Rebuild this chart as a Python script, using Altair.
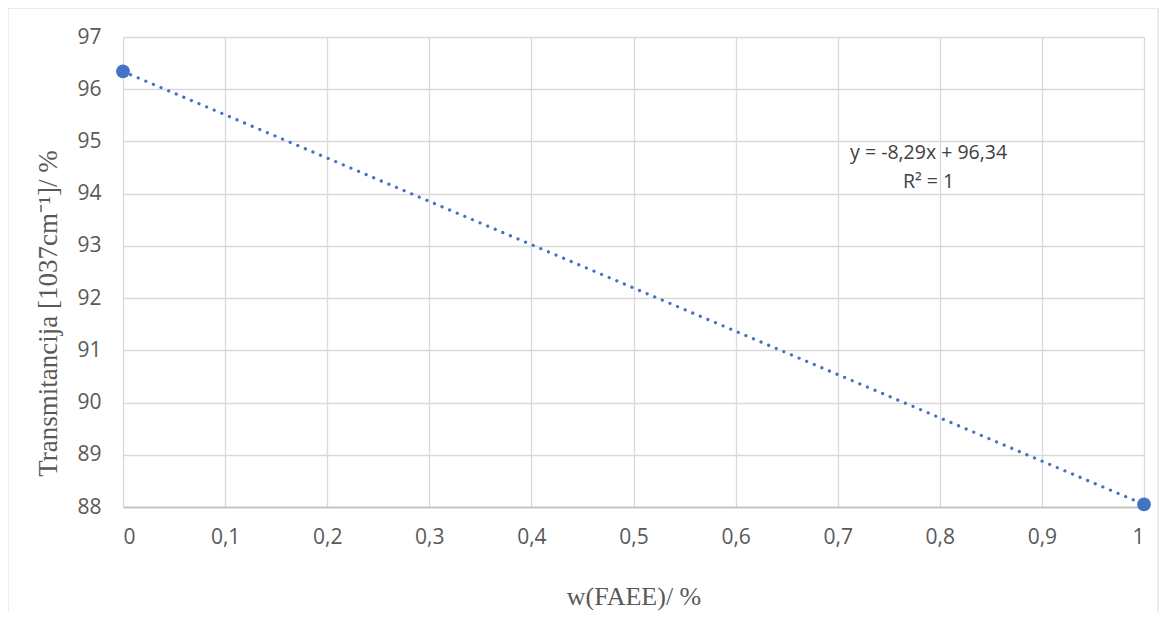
import altair as alt
import pandas as pd

# data
w_faee = [0, 1]
transmit = [96.34, 88.05]
x_ticks = [0, 0.1, 0.2, 0.3, 0.4, 0.5, 0.6, 0.7, 0.8, 0.9, 1]
y_ticks = [88, 89, 90, 91, 92, 93, 94, 95, 96, 97]
eq_lines = ["y = -8,29x + 96,34", "R² = 1"]
eq_x = [0.789, 0.789]
eq_y = [94.78, 94.22]

df = pd.DataFrame({"x": w_faee, "y": transmit})
eq_df = pd.DataFrame({"x": eq_x, "y": eq_y, "t": eq_lines})

GRID = "#d9d9d9"
TXT = "#595959"
BLUE = "#4472C4"

xscale = alt.Scale(domain=[0, 1], nice=False, zero=False)
yscale = alt.Scale(domain=[88, 97], nice=False, zero=False)

x_enc = alt.X(
    "x:Q", scale=xscale,
    axis=alt.Axis(
        values=x_ticks, title="w(FAEE)/ %",
        labelExpr="datum.value == 0 ? '0' : datum.value == 1 ? '1' : replace(format(datum.value, '.1f'), '.', ',')",
        labelFont="Open Sans", labelFontSize=21, labelColor=TXT, labelPadding=19,
        titleFont="Liberation Serif", titleFontSize=26, titleColor=TXT, titleFontWeight="normal",
        titlePadding=36, ticks=False, domainColor="#bfbfbf", domainWidth=1.3,
        gridColor=GRID, gridWidth=1.3,
    ),
)
y_enc = alt.Y(
    "y:Q", scale=yscale,
    axis=alt.Axis(
        values=y_ticks, title="Transmitancija [1037cm⁻¹]/ %",
        labelFont="Open Sans", labelFontSize=21, labelColor=TXT, labelPadding=22,
        titleFont="Liberation Serif", titleFontSize=27, titleColor=TXT, titleFontWeight="normal",
        titlePadding=14, titleY=276, titleAlign="center", ticks=False, domain=False,
        gridColor=GRID, gridWidth=1.3,
    ),
)

border = alt.Chart(pd.DataFrame({"a": [0]})).mark_rect(
    fill=None, stroke="#d9d9d9", strokeWidth=1, clip=False
).encode(
    x=alt.value(-115), x2=alt.value(1035), y=alt.value(-29), y2=alt.value(600)
)

trend = alt.Chart(df).transform_regression("x", "y", extent=[0, 1]).mark_line(
    color=BLUE, strokeWidth=3.2, strokeDash=[0.1, 8.15], strokeCap="round"
).encode(x=x_enc, y=y_enc)

points = alt.Chart(df).mark_circle(size=190, color=BLUE, opacity=1).encode(x=x_enc, y=y_enc)

eq = alt.Chart(eq_df).mark_text(
    font="Open Sans", fontSize=19.5, color="#404040", align="center", baseline="middle"
).encode(x=alt.X("x:Q", scale=xscale), y=alt.Y("y:Q", scale=yscale), text="t:N")

chart = alt.layer(border, trend, points, eq).properties(
    width=1021, height=470,
    autosize=alt.AutoSizeParams(type="none"),
    padding={"left": 115, "top": 29, "right": 15, "bottom": 105},
).configure_view(stroke=None).configure(background="white")

chart.save("out.html", embed_options={"renderer": "svg", "actions": False})
